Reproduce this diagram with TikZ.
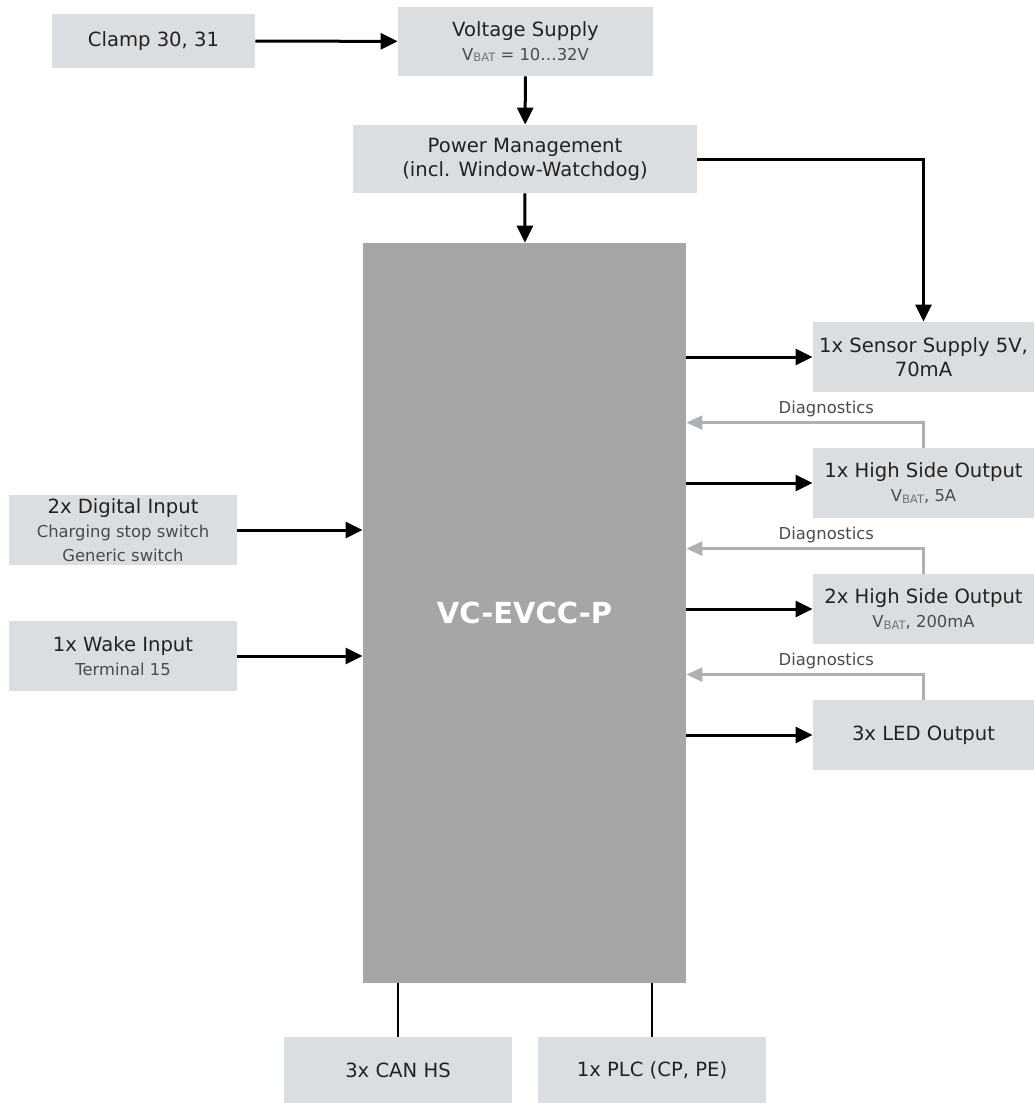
\documentclass[tikz,border=0pt]{standalone}
\usepackage{fontspec}
\setmainfont{DejaVu Sans}
\usepackage{tikz}
\usetikzlibrary{calc}
\usetikzlibrary{arrows.meta,positioning}
\definecolor{boxgray}{RGB}{219,222,225}
\definecolor{coregray}{RGB}{166,166,166}
\definecolor{diaggray}{RGB}{172,177,182}
\definecolor{txtdark}{RGB}{34,34,34}
\definecolor{txtsub}{RGB}{75,75,75}
\definecolor{batgray}{RGB}{115,115,115}
\newcommand{\mainf}{\fontsize{9.8}{12}\selectfont}
\newcommand{\subf}{\fontsize{8.2}{10}\selectfont\color{txtsub}}
\newcommand{\vb}{V\raisebox{-0.2ex}{\fontsize{5.8}{5}\selectfont\color{batgray}BAT}}

\begin{document}
\begin{tikzpicture}[x=0.5pt, y=-0.5pt,
        box/.style={fill=boxgray, text=txtdark, align=center, font=\mainf,
            minimum width=#1, minimum height=35pt, inner sep=0pt},
        box/.default=110.5pt,
        arr/.style={line width=1.5pt, -{Triangle[length=8.5pt, width=8pt]}},
        diagarr/.style={draw=diaggray, line width=1.3pt, -{Triangle[length=8pt, width=7pt]}},
        link/.style={line width=0.8pt}]
        \useasboundingbox (0,0) rectangle (1034,1103);
        % supply chain on top
        \node [box=101.5pt, minimum height=27pt] (clamp) at (153.5,41) {Clamp 30, 31};
        \node [box=127.5pt, minimum height=34.5pt] (vsup) at (525.5,41.5) {Voltage Supply\\\subf \vb{} = 10…32V};
        \node [box=172pt, minimum height=34pt] (pm) at (525,159) {Power Management\\(incl. Window-Watchdog)};
        % controller
        \node [fill=coregray, minimum width=161.5pt, minimum height=370pt, text=white,
            font=\fontsize{14.5}{16}\selectfont\bfseries] (core) at (524.5,613) {VC-EVCC-P};
        % inputs
        \node [box=114pt] (din) at (123,530) {2x Digital Input\\\subf Charging stop switch\\\subf Generic switch};
        \node [box=114pt] (wake) at (123,656) {1x Wake Input\\\subf Terminal 15};
        % outputs
        \node [box] (sens) at (923.5,357) {1x Sensor Supply 5V,\\70mA};
        \node [box] (hsa) at (923.5,483) {1x High Side Output\\\subf \vb, 5A};
        \node [box] (hsb) at (923.5,609) {2x High Side Output\\\subf \vb, 200mA};
        \node [box] (led) at (923.5,735) {3x LED Output};
        % bus interfaces
        \node [box=114pt, minimum height=33pt] (can) at (398,1070) {3x CAN HS};
        \node [box=114pt, minimum height=33pt] (plc) at (652,1070) {1x PLC (CP, PE)};

        \draw [arr] (clamp) -- (vsup);
        \draw [arr] (vsup) -- (pm);
        \draw [arr] (pm) -- (core);
        \draw [arr] (pm.east) -| (sens.north);
        \draw [arr] (din) -- (core.west |- din.east);
        \draw [arr] (wake) -- (core.west |- wake.east);
        \foreach \out in {sens, hsa, hsb, led}
            \draw [arr] (core.east |- \out.west) -- (\out.west);
        \foreach \out in {hsa, hsb, led}
            \draw [diagarr] (\out.north) -- ++(0,-25)
                -- node [pos=0.41, above=-1pt, font=\subf] {Diagnostics}
                ($(core.east |- \out.north) + (0,-25)$);
        \draw [link] (core.south -| can.north) -- (can.north);
        \draw [link] (core.south -| plc.north) -- (plc.north);
    \end{tikzpicture}
\end{document}
